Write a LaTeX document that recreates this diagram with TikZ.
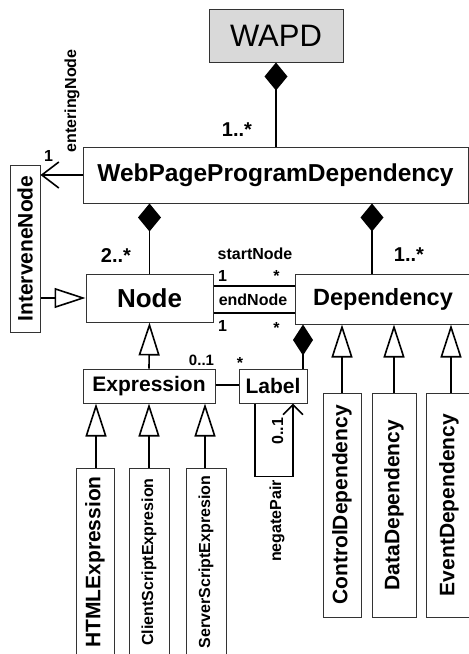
\documentclass[tikz,border=0pt]{standalone}
\usepackage{fontspec}
\setmainfont{Liberation Sans}
\usepackage{graphicx}
\usetikzlibrary{arrows.meta}
\newcommand\myfs[1]{\fontsize{#1}{#1}\selectfont}
\begin{document}
\begin{tikzpicture}[x=1pt,y=-1pt,
  box/.style={draw=black!80, line width=1pt, fill=white, inner sep=0pt, font=\bfseries\myfs{21}},
  con/.style={line width=1.6pt, black},
  lbl/.style={inner sep=0pt, font=\bfseries\myfs{16}},
  gen/.style={con,-{Triangle[open,length=33pt,width=21pt]}},
  comp/.style={con,{Diamond[length=28pt,width=23pt]}-},
  nav/.style={con,-{Straight Barb[length=17pt,width=26pt]}}]
\useasboundingbox (0,0) rectangle (469,654);
\clip (0,0) rectangle (469,654);
\fill[white] (0,0) rectangle (469,654);
% classes
\node[box, fill=black!15, font=\myfs{31}, minimum width=134pt, minimum height=53pt] (wapd) at (276,35.5) {WAPD};
\node[box, font=\bfseries\myfs{24.5}, minimum width=385pt, minimum height=56pt] (wppd) at (275.5,175) {WebPageProgramDependency};
\node[box, minimum width=30pt, minimum height=167pt] (in) at (25,248.5) {\rotatebox{90}{InterveneNode}};
\node[box, font=\bfseries\myfs{26}, minimum width=127pt, minimum height=48pt] (node) at (149.5,298) {Node};
\node[box, font=\bfseries\myfs{23.5}, minimum width=176pt, minimum height=50pt] (dep) at (383,299) {Dependency};
\node[box, minimum width=132pt, minimum height=34pt] (expr) at (149,386) {Expression};
\node[box, minimum width=68pt, minimum height=34pt] (lab) at (273,386) {Label};
\node[box, minimum width=38pt, minimum height=224pt] (ctrl) at (342,505) {\rotatebox{90}{ControlDependency}};
\node[box, minimum width=44pt, minimum height=224pt] (data) at (394,505) {\rotatebox{90}{DataDependency}};
\node[box, minimum width=46pt, minimum height=224pt] (event) at (449,505) {\rotatebox{90}{EventDependency}};
\node[box, minimum width=38pt, minimum height=188pt] (html) at (95,562) {\rotatebox{90}{HTMLExpression}};
\node[box, font=\bfseries\myfs{16}, minimum width=40pt, minimum height=188pt] (client) at (149,562) {\rotatebox{90}{ClientScriptExpresion}};
\node[box, font=\bfseries\myfs{16}, minimum width=40pt, minimum height=188pt] (server) at (206,562) {\rotatebox{90}{ServerScriptExpresion}};
% connectors
\draw[comp] (wapd.south) -- (wapd.south |- wppd.north);
\draw[comp] (wppd.south -| node.north) -- (node.north);
\coordinate (dx) at ([xshift=-11pt]dep.north);
\draw[comp] (dx |- wppd.south) -- (dx);
\draw[nav] (wppd.west) -- (wppd.west -| in.east);
\draw[con,-{Triangle[open,length=31pt,width=20pt]}] (in.east |- node.west) -- (node.west);
\coordinate (s1) at ([yshift=12pt]node.east);
\coordinate (s2) at ([yshift=-15pt]node.east);
\draw[con] (s1) -- (s1 -| dep.west);
\draw[con] (s2) -- (s2 -| dep.west);
\draw[gen] (expr.north) -- (node.south);
\coordinate (el) at ([yshift=1pt]expr.east);
\draw[con] (el) -- (el -| lab.west);
\coordinate (lx) at ([xshift=30pt]lab.north);
\draw[con,{Diamond[length=31pt,width=20pt]}-] (lx |- dep.south) -- (lx);
\draw[gen] (ctrl.north) -- (ctrl.north |- dep.south);
\draw[gen] (data.north) -- (data.north |- dep.south);
\draw[gen] ([xshift=2pt]event.north) -- ([xshift=2pt]event.north |- dep.south);
\draw[gen] ([xshift=1pt]html.north) -- ([xshift=1pt]html.north |- expr.south);
\draw[gen] (client.north) -- (client.north |- expr.south);
\draw[gen] ([xshift=-1pt]server.north) -- ([xshift=-1pt]server.north |- expr.south);
\coordinate (la) at ([xshift=-18pt]lab.south);
\coordinate (lb) at ([xshift=20pt]lab.south);
\draw[con,-{Straight Barb[length=10pt,width=20pt]}] (la) -- ++(0,73) -| (lb);
% labels
\node[lbl, font=\bfseries\myfs{20}, anchor=north] (m1) at (237,123) {1..*};
\node[lbl, font=\bfseries\myfs{20}, anchor=north] (m2) at (116,248) {2..*};
\node[lbl, font=\bfseries\myfs{20}, anchor=north] (m3) at (409,248) {1..*};
\node[lbl, anchor=north] (sn) at (255,248) {startNode};
\node[lbl, anchor=north] (s1a) at (222.5,270) {1};
\node[lbl, anchor=north] (s1b) at (276.5,270) {*};
\node[lbl, anchor=north] (en) at (253,294) {endNode};
\node[lbl, anchor=north] (s2a) at (222.5,320) {1};
\node[lbl, anchor=north] (s2b) at (276.5,322) {*};
\node[lbl, font=\bfseries\myfs{15}, anchor=north] (m01) at (201.5,355) {0..1};
\node[lbl, anchor=north] (mst) at (240,357) {*};
\node[lbl, anchor=north] (e1) at (48.5,150) {1};
\node[lbl] (ent) at (72,101) {\rotatebox{90}{enteringNode}};
\node[lbl] (n01) at (277.5,431) {\rotatebox{90}{0..1}};
\node[lbl] (np) at (277,521) {\rotatebox{90}{negatePair}};
\end{tikzpicture}
\end{document}
